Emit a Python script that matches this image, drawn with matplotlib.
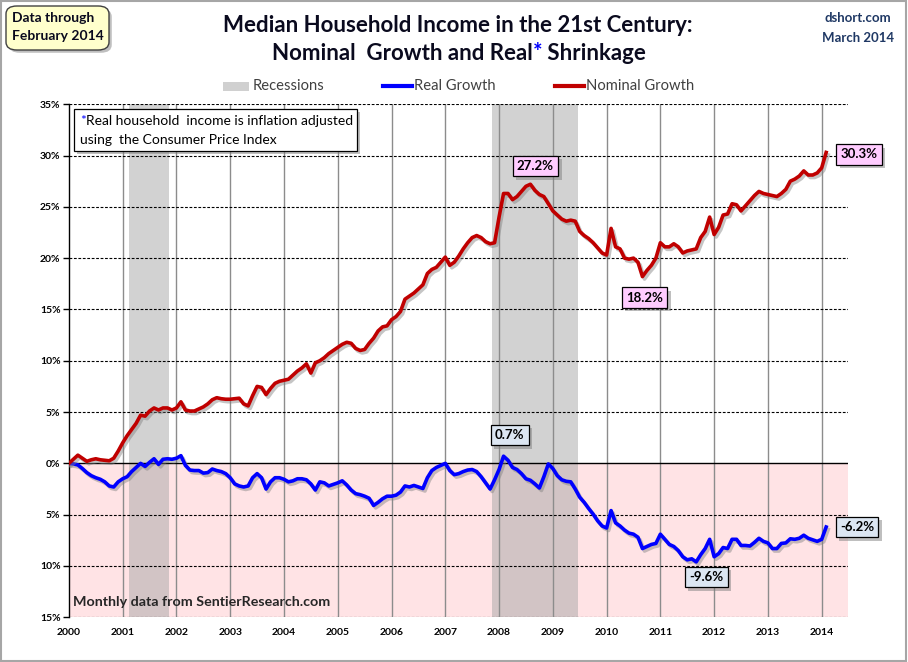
import numpy as np
import matplotlib
matplotlib.use("Agg")
import matplotlib.pyplot as plt
import matplotlib.patheffects as pe
from matplotlib.patches import Rectangle, FancyBboxPatch
from matplotlib.lines import Line2D
from matplotlib.ticker import FuncFormatter

plt.rcParams["font.family"] = ["Lato", "DejaVu Sans"]

W, H = 908, 662
START_YEAR = 2000

# monthly % change since Jan 2000, Jan 2000 .. Feb 2014
nominal = [
    0.0, 0.4, 0.8, 0.5, 0.2, 0.35, 0.45, 0.35, 0.3, 0.25, 0.5, 1.2,
    2.0, 2.7, 3.3, 3.9, 4.7, 4.6, 5.1, 5.4, 5.2, 5.4, 5.4, 5.2,
    5.4, 6.0, 5.2, 5.1, 5.1, 5.3, 5.5, 5.8, 6.2, 6.4, 6.3, 6.25,
    6.25, 6.3, 6.35, 5.8, 5.6, 6.6, 7.5, 7.4, 6.7, 7.3, 7.8, 8.0,
    8.1, 8.2, 8.6, 9.0, 9.3, 9.7, 8.8, 9.8, 10.0, 10.3, 10.7, 11.0,
    11.3, 11.6, 11.8, 11.7, 11.2, 11.0, 11.1, 11.7, 12.2, 12.9, 13.3, 13.4,
    14.0, 14.3, 14.8, 16.0, 16.3, 16.6, 17.0, 17.4, 18.5, 18.9, 19.1, 19.6,
    20.1, 19.3, 19.6, 20.2, 20.9, 21.5, 22.0, 22.2, 22.0, 21.6, 21.4, 21.5,
    24.0, 26.3, 26.3, 25.7, 26.0, 26.5, 27.0, 27.2, 26.6, 26.2, 26.0, 25.3,
    24.6, 24.2, 23.8, 23.6, 23.7, 23.6, 22.6, 22.2, 21.9, 21.5, 21.0, 20.5,
    20.3, 22.9, 21.1, 20.9, 20.0, 19.9, 20.0, 19.6, 18.2, 18.8, 19.3, 20.0,
    21.5, 21.1, 21.1, 21.4, 21.1, 20.5, 20.7, 20.8, 20.9, 22.0, 22.6, 24.0,
    22.3, 23.0, 24.2, 24.3, 25.3, 25.2, 24.6, 25.1, 25.6, 26.1, 26.5, 26.3,
    26.2, 26.1, 26.0, 26.3, 26.7, 27.5, 27.7, 28.0, 28.5, 28.1, 28.1, 28.3,
    28.8, 30.3,
]
real = [
    0.0, -0.05, -0.15, -0.5, -0.9, -1.2, -1.4, -1.55, -1.8, -2.2, -2.3, -1.8,
    -1.5, -1.3, -0.8, -0.4, 0.0, -0.3, 0.1, 0.45, -0.1, 0.4, 0.45, 0.4,
    0.5, 0.75, -0.2, -0.65, -0.7, -0.7, -0.95, -0.9, -0.55, -0.7, -0.8, -1.0,
    -1.4, -2.0, -2.2, -2.3, -2.2, -1.4, -1.0, -1.4, -2.5, -1.8, -1.4, -1.4,
    -1.55, -1.8, -1.7, -1.5, -1.5, -1.6, -2.0, -2.6, -1.8, -1.9, -2.2, -2.05,
    -1.9, -1.7, -2.1, -2.6, -2.95, -3.05, -3.2, -3.4, -4.1, -3.8, -3.45, -3.2,
    -3.2, -3.1, -2.8, -2.2, -2.3, -2.15, -2.3, -2.45, -1.4, -0.7, -0.4, -0.2,
    0.0, -0.7, -1.1, -1.0, -0.8, -0.65, -0.6, -0.8, -1.3, -1.9, -2.5, -1.6,
    -0.6, 0.7, 0.3, -0.4, -0.6, -1.0, -1.5, -1.65, -2.0, -2.4, -1.3, -0.05,
    -0.5, -1.2, -1.6, -1.75, -1.8, -2.5, -3.3, -3.8, -4.4, -4.95, -5.6, -6.1,
    -6.3, -4.6, -5.8, -6.1, -6.5, -6.8, -6.9, -7.2, -8.3, -8.1, -7.9, -7.8,
    -6.9, -7.4, -7.9, -8.1, -8.5, -9.1, -9.4, -9.3, -9.6, -8.9, -8.3, -7.4,
    -9.1, -8.8, -8.2, -8.3, -7.4, -7.4, -8.0, -8.0, -8.05, -7.7, -7.3, -7.6,
    -7.75, -8.3, -8.3, -7.8, -7.75, -7.35, -7.4, -7.3, -7.0, -7.3, -7.45, -7.6,
    -7.4, -6.2,
]
recessions = [(2001.12, 2001.86), (2007.87, 2009.46)]
year_ticks = list(range(2000, 2015))
pct_ticks = list(range(-15, 36, 5))

RED = "#C00000"
BLUE = "#0000FF"
PINK_BOX = "#FFCCFF"
BLUE_BOX = "#DCE6F2"
NAVY_INK = "#0A0A1E"


def fx(px):
    return px / W


def fy(py):
    return 1 - py / H


def pieces_text(fig, pieces, x, y, ha="center", **kw):
    r = fig.canvas.get_renderer()
    texts = [fig.text(0, fy(y), s, color=c, va="center", ha="left", **kw) for s, c in pieces]
    widths = [t.get_window_extent(r).width for t in texts]
    start = x - sum(widths) / 2 if ha == "center" else x
    for t, w in zip(texts, widths):
        t.set_x(fx(start))
        start += w


fig = plt.figure(figsize=(W / 100, H / 100), dpi=100)
fig.patch.set_facecolor("white")
ax = fig.add_axes([fx(68.9), fy(617.3), fx(848 - 68.9), (617.3 - 104.2) / H])
ax.set_facecolor("white")

months = START_YEAR + np.arange(len(nominal)) / 12.0
xmax = START_YEAR + (848 - 68.9) / 53.77

ax.axhspan(-15, 0, color="#FFE3E5", lw=0, zorder=0)
for a, b in recessions:
    ax.axvspan(a, b, color="#A6A6A6", alpha=0.5, lw=0, zorder=1)
for yr in year_ticks[1:]:
    ax.axvline(yr, color="#8C8C8C", lw=1.0, zorder=2)
for v in pct_ticks:
    if v == 0:
        ax.axhline(0, color="black", lw=1.0, zorder=3)
    else:
        ax.axhline(v, color="black", lw=0.8, ls=(0, (2.5, 1.5)), zorder=3)

shadow = [pe.SimpleLineShadow(offset=(1.5, -1.8), shadow_color="#808080", alpha=0.45), pe.Normal()]
ax.plot(months, real, color=BLUE, lw=2.6, zorder=5, path_effects=shadow, solid_joinstyle="round")
ax.plot(months, nominal, color=RED, lw=2.6, zorder=6, path_effects=shadow, solid_joinstyle="round")

ax.set_xlim(START_YEAR, xmax)
ax.set_ylim(-15, 35)
ax.set_xticks(year_ticks)
ax.set_xticklabels([str(y) for y in year_ticks])
ax.set_yticks(pct_ticks)
ax.yaxis.set_major_formatter(FuncFormatter(lambda v, _: f"{abs(v):.0f}%"))
ax.tick_params(axis="x", length=0, pad=8, labelsize=7.5)
ax.tick_params(axis="y", length=4, width=1, pad=2, labelsize=7.5, direction="out")
for lab in ax.get_xticklabels() + ax.get_yticklabels():
    lab.set_fontweight("bold")
for side in ("top", "right", "bottom"):
    ax.spines[side].set_visible(False)
ax.spines["left"].set_color("black")
ax.spines["left"].set_linewidth(1.0)


def box_label(xv, yv, text, dx, dy, fc):
    t = ax.annotate(text, xy=(xv, yv), xytext=(dx, dy), textcoords="offset pixels",
                    ha="center", va="center", fontsize=9.5, fontweight="bold", zorder=8,
                    annotation_clip=False,
                    bbox=dict(boxstyle="square,pad=0.32", fc=fc, ec="black", lw=0.9))
    t.get_bbox_patch().set_path_effects(
        [pe.SimplePatchShadow(offset=(2.5, -2.5), shadow_rgbFace="#808080", alpha=0.5), pe.Normal()])


nom = np.array(nominal)
rea = np.array(real)
i_peak = int(np.argmax(nom[:120]))
i_trough = 110 + int(np.argmin(nom[110:]))
i_rpeak = 84 + int(np.argmax(rea[84:]))
i_rmin = int(np.argmin(rea))
last = len(nominal) - 1
box_label(months[i_peak], nom[i_peak], f"{nom[i_peak]:.1f}%", 5, 18, PINK_BOX)
box_label(months[i_trough], nom[i_trough], f"{nom[i_trough]:.1f}%", 2, -21, PINK_BOX)
box_label(months[last], nom[last], f"{nom[last]:.1f}%", 33, -2, PINK_BOX)
box_label(months[i_rpeak], rea[i_rpeak], f"{rea[i_rpeak]:.1f}%", 6, 21, BLUE_BOX)
box_label(months[i_rmin], rea[i_rmin], f"{rea[i_rmin]:.1f}%", 10, -15, BLUE_BOX)
box_label(months[last], rea[last], f"{rea[last]:.1f}%", 31, 0, BLUE_BOX)

# note box
note = FancyBboxPatch((fx(74), fy(151)), fx(357 - 74), (151 - 109) / H, boxstyle="square,pad=0",
                      transform=fig.transFigure, fc="white", ec="black", lw=0.9, zorder=10)
note.set_path_effects([pe.SimplePatchShadow(offset=(2.5, -2.5), shadow_rgbFace="#808080", alpha=0.5), pe.Normal()])
fig.add_artist(note)
pieces_text(fig, [("*", BLUE), ("Real household  income is inflation adjusted", "black")], 80, 121,
            ha="left", fontsize=10, zorder=11)
pieces_text(fig, [("using  the Consumer Price Index", "black")], 80, 140, ha="left", fontsize=10, zorder=11)

fig.text(fx(73), fy(602), "Monthly data from SentierResearch.com", ha="left", va="center",
         fontsize=10.3, fontweight="bold", color="#262626")

# titles
fig.text(fx(458), fy(25), "Median Household Income in the 21st Century:", ha="center", va="center",
         fontsize=16, fontweight="bold", color=NAVY_INK)
pieces_text(fig, [("Nominal  Growth and Real", NAVY_INK), ("*", BLUE), (" Shrinkage", NAVY_INK)], 459, 53,
            fontsize=16, fontweight="bold")

# data-through box
dbox = FancyBboxPatch((fx(6), fy(50)), fx(103), 44 / H, boxstyle="round,pad=0,rounding_size=0.012",
                      transform=fig.transFigure, fc="#FFFFCC", ec="#404040", lw=1.0)
dbox.set_path_effects([pe.SimplePatchShadow(offset=(2, -2), shadow_rgbFace="#808080", alpha=0.5), pe.Normal()])
fig.add_artist(dbox)
fig.text(fx(12), fy(18), "Data through", ha="left", va="center", fontsize=10, fontweight="bold", color=NAVY_INK)
fig.text(fx(12), fy(36), "February 2014", ha="left", va="center", fontsize=10, fontweight="bold", color=NAVY_INK)

fig.text(fx(858), fy(18), "dshort.com", ha="center", va="center", fontsize=9.5, fontweight="bold", color="#1F3864")
fig.text(fx(858), fy(38), "March 2014", ha="center", va="center", fontsize=9.5, fontweight="bold", color="#1F3864")

# legend
fig.add_artist(Rectangle((fx(223), fy(91)), fx(26), 9.5 / H, transform=fig.transFigure, fc="#D0D0D0", ec="none"))
fig.text(fx(253), fy(86), "Recessions", ha="left", va="center", fontsize=10.6, color="#404040")
fig.add_artist(Line2D([fx(383), fx(412)], [fy(86), fy(86)], transform=fig.transFigure, color=BLUE, lw=3))
fig.text(fx(414), fy(86), "Real Growth", ha="left", va="center", fontsize=10.6, color="#404040")
fig.add_artist(Line2D([fx(555), fx(584)], [fy(86), fy(86)], transform=fig.transFigure, color=RED, lw=3))
fig.text(fx(586), fy(86), "Nominal Growth", ha="left", va="center", fontsize=10.6, color="#404040")

fig.add_artist(Rectangle((0.001, 0.002), 0.997, 0.996, transform=fig.transFigure, fill=False,
                         ec="#A6A6A6", lw=1.5))

fig.savefig("out.png", dpi=100, facecolor="white")
